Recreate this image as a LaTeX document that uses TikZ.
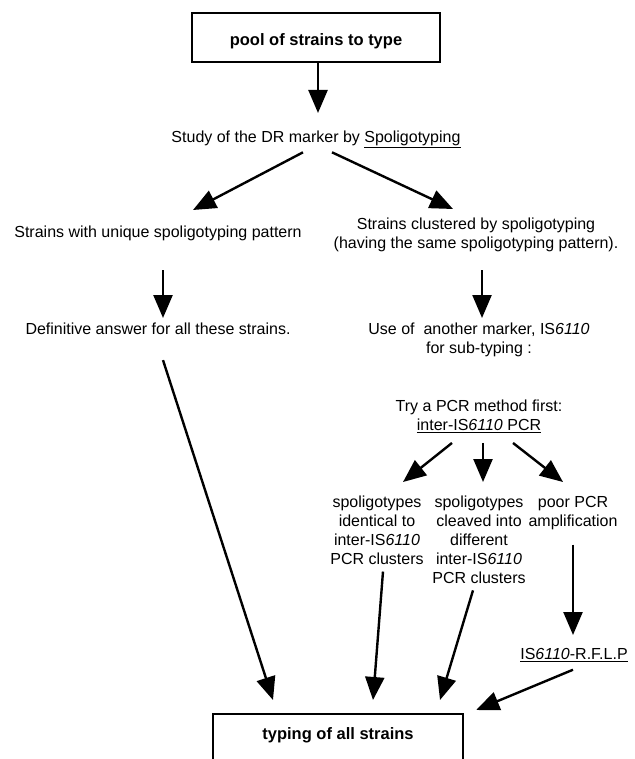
\documentclass[tikz,border=0pt]{standalone}
\usepackage{fontspec}
\setmainfont{Liberation Sans}
\usepackage{tikz}
\usetikzlibrary{arrows.meta, calc}

\newcommand{\ISs}{IS\textit{6110}}

\begin{document}
\begin{tikzpicture}[
  x=1pt, y=-1pt,
  arr/.style={-{Triangle[length=23pt, width=19pt]}, line width=2.4pt},
  framebox/.style={draw, line width=2.4pt, minimum width=250pt, font=\fontsize{16.5}{19}\selectfont\bfseries},
  txt/.style={anchor=north, inner sep=0pt, align=center, font=\fontsize{16}{18.8}\selectfont},
]
\clip (0,0) rectangle (634,759);

% top and bottom boxes
\node[framebox, minimum width=248pt, minimum height=49pt, text height=20pt, text depth=3.5pt] (pool) at (316,37.5) {pool of strains to type};
\node[framebox, anchor=north, text height=17pt, text depth=50pt, inner ysep=8pt] (final) at (338,713) {typing of all strains};

% texts
\node[txt] (study) at (316,131) {Study of the DR marker by \underline{Spoligotyping}};
\node[txt] (uniq) at (158,226) {Strains with unique spoligotyping pattern};
\node[txt] (clus) at (476,218) {Strains clustered by spoligotyping\\(having the same spoligotyping pattern).};
\node[txt] (defin) at (158,323) {Definitive answer for all these strains.};
\node[txt] (use) at (479,323) {Use of \ another marker, \ISs\\for sub-typing :};
\node[txt] (try) at (479,400) {Try a PCR method first:\\\underline{inter-\ISs{} PCR}};
\node[txt] (colA) at (377,496) {spoligotypes\\identical to\\inter-\ISs\\PCR clusters};
\node[txt] (colB) at (479,496) {spoligotypes\\cleaved into\\different\\inter-\ISs\\PCR clusters};
\node[txt] (colC) at (573,496) {poor PCR\\amplification};
\node[txt] (rflp) at (574,648) {\underline{\ISs-R.F.L.P}};

% arrows
\draw[arr] ($(pool.south)+(2,0)$) -- ($(study.north)+(2,-18)$);
\draw[arr] ($(study.south)+(-13,4)$) -- ($(uniq.north)+(35,-16)$);
\draw[arr] ($(study.south)+(16,4)$) -- ($(clus.north)+(-23,-9)$);
\draw[arr] ($(uniq.south)+(5,29)$) -- ($(defin.north)+(5,-5)$);
\draw[arr] ($(clus.south)+(6,18)$) -- ($(use.north)+(3,-5)$);
\draw[arr] ($(defin.south)+(5,25)$) -- ($(final.north)+(-65,-13)$);

\draw[arr] ($(try.south)+(-27,10)$) -- ($(colA.north)+(26,-14)$);
\draw[arr] ($(try.south)+(4,10)$) -- ($(colB.north)+(4,-14)$);
\draw[arr] ($(try.south)+(34,10)$) -- ($(colC.north)+(-10,-14)$);

\draw[arr] ($(colA.south)+(6,7)$) -- ($(final.north)+(35,-13)$);
\draw[arr] ($(colB.south)+(-6,7)$) -- ($(final.north)+(102,-13)$);
\draw[arr] ($(colC.south)+(0,15)$) -- ($(rflp.north)+(-1,-13)$);
\draw[arr] ($(rflp.south)+(-1,8)$) -- ($(final.north east)+(12,-3)$);
\end{tikzpicture}
\end{document}
